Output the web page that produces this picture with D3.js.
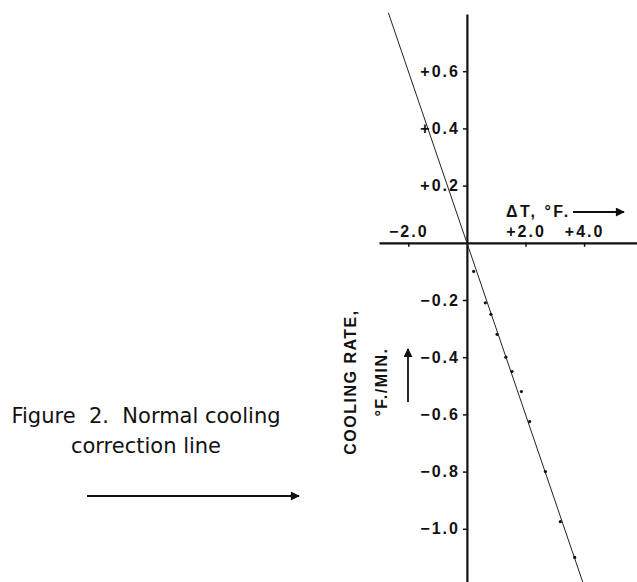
<!DOCTYPE html>
<html>
<head>
<meta charset="utf-8">
<script src="https://cdn.jsdelivr.net/npm/d3@7"></script>
<style>
  body { margin: 0; background: #fff; }
  svg text { fill: #111; }
</style>
</head>
<body>
<div id="chart"></div>
<script>
// Normal cooling correction line
const xTicks = [-2, 2, 4];
const yTicks = [0.6, 0.4, 0.2, -0.2, -0.4, -0.6, -0.8, -1.0];
const pointsX = [0.23, 0.63, 0.82, 1.03, 1.33, 1.54, 1.86, 2.14, 2.68, 3.19, 3.68];
const pointsY = [-0.10, -0.21, -0.25, -0.32, -0.40, -0.45, -0.52, -0.625, -0.80, -0.975, -1.10];
const fitX = [-2.68, 4.0];
const fitY = [0.804, -1.2];
const captionLines = ["Figure  2.  Normal cooling", "correction line"];

const width = 637, height = 582;
const labelFont = "'Liberation Sans', Arial, sans-serif";

const svg = d3.select("#chart")
  .append("svg")
  .attr("width", width)
  .attr("height", height);

// arrow head marker
svg.append("defs").append("marker")
  .attr("id", "arrow")
  .attr("viewBox", "0 0 10 10")
  .attr("refX", 9).attr("refY", 5)
  .attr("markerWidth", 6).attr("markerHeight", 5)
  .attr("orient", "auto")
  .append("path")
  .attr("d", "M0,0 L10,5 L0,10 z")
  .attr("fill", "#111");

// scales
const x = d3.scaleLinear().domain([-3, 6]).range([379, 379 + 9 * 29.3]);
const y = d3.scaleLinear().domain([0.8, -1.2]).range([14, 14 + 2 * 286]);

const fmt = (d) => (d > 0 ? "+" : d < 0 ? "\u2212" : "") + Math.abs(d).toFixed(1);

// X axis (labels above)
const xAxis = svg.append("g")
  .attr("transform", `translate(0,${y(0)})`)
  .call(d3.axisTop(x).tickValues(xTicks).tickFormat(fmt).tickSizeInner(-4).tickSizeOuter(0).tickPadding(6));

// Y axis
const yAxis = svg.append("g")
  .attr("transform", `translate(${x(0)},0)`)
  .call(d3.axisLeft(y).tickValues(yTicks).tickFormat(fmt).tickSizeInner(4).tickSizeOuter(0).tickPadding(3));

[xAxis, yAxis].forEach((g) => {
  g.select(".domain").attr("stroke", "#111").attr("stroke-width", 2.2);
  g.selectAll(".tick line").attr("stroke", "#111").attr("stroke-width", 1.5);
  g.selectAll(".tick text")
    .attr("fill", "#111")
    .style("font-family", labelFont)
    .style("font-weight", "bold")
    .style("font-size", "16px")
    .style("letter-spacing", "2px");
});

// fitted line
svg.append("line")
  .attr("x1", x(fitX[0])).attr("y1", y(fitY[0]))
  .attr("x2", x(fitX[1])).attr("y2", y(fitY[1]))
  .attr("stroke", "#222")
  .attr("stroke-width", 1);

// observed points
svg.selectAll(".pt")
  .data(pointsX.map((d, i) => [d, pointsY[i]]))
  .enter()
  .append("circle")
  .attr("class", "pt")
  .attr("cx", (d) => x(d[0]))
  .attr("cy", (d) => y(d[1]))
  .attr("r", 1.6)
  .attr("fill", "#111");

// X axis title with arrow
svg.append("text")
  .attr("x", 506)
  .attr("y", 217)
  .style("font-family", labelFont)
  .style("font-weight", "bold")
  .style("font-size", "16px")
  .style("letter-spacing", "2.5px")
  .text("\u0394T, \u00b0F.");

svg.append("line")
  .attr("x1", 573).attr("y1", 212)
  .attr("x2", 624).attr("y2", 212)
  .attr("stroke", "#111")
  .attr("stroke-width", 1.8)
  .attr("marker-end", "url(#arrow)");

// Y axis title
const yTitle = svg.append("g")
  .style("font-family", labelFont)
  .style("font-weight", "bold")
  .style("font-size", "16px")
  .style("letter-spacing", "1.5px");

yTitle.append("text")
  .attr("transform", "translate(356,382) rotate(-90)")
  .attr("text-anchor", "middle")
  .text("COOLING RATE,");

yTitle.append("text")
  .attr("transform", "translate(387,382) rotate(-90)")
  .attr("text-anchor", "middle")
  .text("\u00b0F./MIN.");

svg.append("line")
  .attr("x1", 408).attr("y1", 402)
  .attr("x2", 408).attr("y2", 349)
  .attr("stroke", "#111")
  .attr("stroke-width", 1.8)
  .attr("marker-end", "url(#arrow)");

// caption
svg.selectAll(".caption")
  .data(captionLines)
  .enter()
  .append("text")
  .attr("class", "caption")
  .attr("x", 146)
  .attr("y", (d, i) => 423 + i * 30)
  .attr("text-anchor", "middle")
  .attr("xml:space", "preserve")
  .style("white-space", "pre")
  .style("font-family", "'DejaVu Sans', sans-serif")
  .style("font-size", "21px")
  .text((d) => d);

// long arrow under caption
svg.append("line")
  .attr("x1", 87).attr("y1", 496)
  .attr("x2", 299).attr("y2", 496)
  .attr("stroke", "#111")
  .attr("stroke-width", 1.8)
  .attr("marker-end", "url(#arrow)");
</script>
</body>
</html>
